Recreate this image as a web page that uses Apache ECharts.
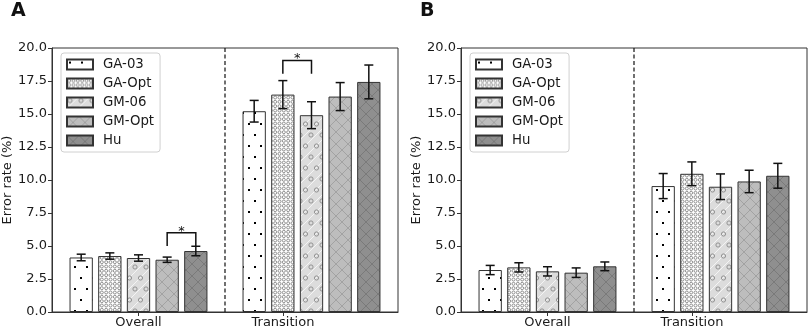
<!DOCTYPE html>
<html><head><meta charset="utf-8">
<script src="https://cdn.jsdelivr.net/npm/echarts@6/dist/echarts.min.js"></script>
<style>html,body{margin:0;padding:0;background:#fff}#c{width:809px;height:331px}</style>
</head><body><div id="c"></div>
<script>
// ---------------- DATA ----------------
const categories = ['Overall', 'Transition'];
const seriesNames = ['GA-03', 'GA-Opt', 'GM-06', 'GM-Opt', 'Hu'];
const panelTitles = ['A', 'B'];
const tickPositions = [0, 0.835];      // x tick positions (group units)
const tickLabels = ['Overall', 'Transition'];
const dividerPosition = [0.5];
const yMin = 0, yMax = 20, yStep = 2.5;

// Panel A means / errors, one entry per series (GA-03, GA-Opt, GM-06, GM-Opt, Hu)
const A_overall_mean    = [4.13, 4.24, 4.09, 3.96, 4.62];
const A_overall_err     = [0.25, 0.24, 0.24, 0.20, 0.36];
const A_transition_mean = [15.21, 16.47, 14.91, 16.32, 17.43];
const A_transition_err  = [0.82, 1.06, 1.02, 1.06, 1.28];
// Panel B
const B_overall_mean    = [3.18, 3.38, 3.08, 2.98, 3.46];
const B_overall_err     = [0.35, 0.35, 0.35, 0.36, 0.33];
const B_transition_mean = [9.54, 10.47, 9.49, 9.89, 10.32];
const B_transition_err  = [0.95, 0.90, 0.97, 0.85, 0.94];
// Significance brackets: [category, series i, series j, bracket y, leg bottom y]
const A_signif = [[0, 3, 4, 6.0, 5.0], [1, 1, 2, 19.05, 18.05]];
const B_signif = [];

// ---------------- STYLE ----------------
const FONT = 'DejaVu Sans';
const EDGE = '#333';
const TXT = '#1a1a1a';
const FS = 13;
const BAR_W = 23.3, GAP = 0.23;
const PITCH = BAR_W * (1 + GAP);

function pattern(w, h, bg, draw) {
  const c = document.createElement('canvas');
  c.width = w; c.height = h;
  const g = c.getContext('2d');
  g.fillStyle = bg; g.fillRect(0, 0, w, h);
  draw(g);
  return { image: c, repeat: 'repeat' };
}
const patterns = [
  // GA-03: sparse staggered dots
  pattern(12, 22, '#ffffff', g => {
    g.fillStyle = '#000';
    g.fillRect(2, 2, 2, 2); g.fillRect(8, 13, 2, 2);
  }),
  // GA-Opt: dense small circles
  pattern(13, 13, '#ffffff', g => {
    g.strokeStyle = '#777'; g.lineWidth = 0.8;
    for (let i = 0; i < 3; i++) for (let j = 0; j < 3; j++) {
      g.beginPath(); g.arc(2.17 + i * 4.33, 2.17 + j * 4.33, 1.5, 0, Math.PI * 2); g.stroke();
    }
  }),
  // GM-06: light grey, larger circles + faint diagonals
  pattern(22, 22, '#dcdcdc', g => {
    g.strokeStyle = '#f4f4f4'; g.lineWidth = 1;
    [[0, 11, 11, 0], [0, 22, 22, 0], [11, 22, 22, 11]].forEach(l => {
      g.beginPath(); g.moveTo(l[0], l[1]); g.lineTo(l[2], l[3]); g.stroke();
    });
    g.strokeStyle = '#8a8a8a'; g.lineWidth = 0.9;
    [[3, 3], [14, 3], [8.5, 14], [19.5, 14]].forEach(p => {
      g.beginPath(); g.arc(p[0], p[1], 2.1, 0, Math.PI * 2); g.stroke();
    });
  }),
  // GM-Opt: mid grey crosshatch
  pattern(12, 12, '#bdbdbd', g => {
    g.strokeStyle = '#a2a2a2'; g.lineWidth = 1;
    g.beginPath(); g.moveTo(0, 0); g.lineTo(12, 12); g.moveTo(0, 12); g.lineTo(12, 0); g.stroke();
  }),
  // Hu: dark grey crosshatch
  pattern(12, 12, '#8f8f8f', g => {
    g.strokeStyle = '#7a7a7a'; g.lineWidth = 1;
    g.beginPath(); g.moveTo(0, 0); g.lineTo(12, 12); g.moveTo(0, 12); g.lineTo(12, 0); g.stroke();
  })
];

const panels = [
  { om: A_overall_mean, oe: A_overall_err, tm: A_transition_mean, te: A_transition_err, sig: A_signif, left: 52 },
  { om: B_overall_mean, oe: B_overall_err, tm: B_transition_mean, te: B_transition_err, sig: B_signif, left: 461 }
];

const grids = [], xAxes = [], yAxes = [], series = [], legends = [], titles = [];
panels.forEach((p, k) => {
  grids.push({ left: p.left, top: 48, width: 346, height: 264, show: true, borderColor: EDGE, borderWidth: 1 });
  titles.push({ text: panelTitles[k], left: p.left - 41, top: 2, padding: 0,
    textStyle: { fontFamily: FONT, fontSize: 19, fontWeight: 'bold', color: '#111' } });
  // category axis for bars (hidden)
  xAxes.push({ type: 'category', gridIndex: k, position: 'bottom', data: categories, show: false });
  // value axis for ticks / labels / divider
  xAxes.push({ type: 'value', gridIndex: k, position: 'bottom', offset: 0, min: -0.5, max: 1.5,
    axisLine: { show: true, onZero: false, lineStyle: { color: EDGE, width: 1 } },
    axisTick: { show: true, customValues: tickPositions, length: 4, lineStyle: { color: EDGE } },
    axisLabel: { show: true, customValues: tickPositions, margin: 4, fontFamily: FONT, fontSize: FS, color: TXT,
      formatter: v => { const i = tickPositions.findIndex(t => Math.abs(t - v) < 1e-6); return i >= 0 ? tickLabels[i] : ''; } },
    splitLine: { show: false } });
  yAxes.push({ type: 'value', gridIndex: k, min: yMin, max: yMax, interval: yStep,
    name: 'Error rate (%)', nameLocation: 'middle', nameGap: 37,
    nameTextStyle: { fontFamily: FONT, fontSize: FS, color: TXT },
    axisLine: { show: true, onZero: false, lineStyle: { color: EDGE, width: 1 } },
    axisTick: { show: true, length: 4, lineStyle: { color: EDGE } },
    axisLabel: { fontFamily: FONT, fontSize: FS, color: TXT, margin: 5, formatter: v => v.toFixed(1) },
    splitLine: { show: false } });

  const errData = [];
  seriesNames.forEach((name, i) => {
    series.push({ type: 'bar', name, xAxisIndex: 2 * k, yAxisIndex: k,
      data: [p.om[i], p.tm[i]], barWidth: BAR_W, barGap: (GAP * 100) + '%',
      itemStyle: { color: patterns[i], borderColor: EDGE, borderWidth: 1 } });
    errData.push([0, i, p.om[i], p.oe[i]]);
    errData.push([1, i, p.tm[i], p.te[i]]);
  });
  // error bars
  series.push({ type: 'custom', xAxisIndex: 2 * k, yAxisIndex: k, data: errData, z: 5,
    encode: { x: 0, y: 2 },
    renderItem: (params, api) => {
      const c = api.value(0), s = api.value(1), m = api.value(2), e = api.value(3);
      const t = api.coord([c, m + e]), b = api.coord([c, m - e]);
      const x = t[0] + (s - 2) * PITCH, cw = 4.5;
      const st = { stroke: '#111', lineWidth: 1.5 };
      return { type: 'group', children: [
        { type: 'line', shape: { x1: x, y1: t[1], x2: x, y2: b[1] }, style: st },
        { type: 'line', shape: { x1: x - cw, y1: t[1], x2: x + cw, y2: t[1] }, style: st },
        { type: 'line', shape: { x1: x - cw, y1: b[1], x2: x + cw, y2: b[1] }, style: st }
      ] };
    } });
  // significance brackets
  if (p.sig.length) series.push({ type: 'custom', xAxisIndex: 2 * k, yAxisIndex: k, data: p.sig, z: 6,
    encode: { x: 0, y: 3 },
    renderItem: (params, api) => {
      const c = api.value(0), s1 = api.value(1), s2 = api.value(2), yt = api.value(3), yl = api.value(4);
      const top = api.coord([c, yt]), leg = api.coord([c, yl]);
      const x1 = top[0] + (s1 - 2) * PITCH, x2 = top[0] + (s2 - 2) * PITCH;
      return { type: 'group', children: [
        { type: 'polyline', shape: { points: [[x1, leg[1]], [x1, top[1]], [x2, top[1]], [x2, leg[1]]] },
          style: { stroke: '#111', lineWidth: 1.5, fill: null } },
        { type: 'text', x: (x1 + x2) / 2, y: top[1] + 5,
          style: { text: '*', fontFamily: FONT, fontSize: 13, fill: '#111', align: 'center', verticalAlign: 'bottom' } }
      ] };
    } });
  // dashed divider
  series.push({ type: 'custom', xAxisIndex: 2 * k + 1, yAxisIndex: k, data: dividerPosition.map(v => [v]), z: 4,
    encode: { x: 0 },
    renderItem: (params, api) => {
      const a = api.coord([api.value(0), yMin]), b = api.coord([api.value(0), yMax]);
      return { type: 'line', shape: { x1: a[0], y1: a[1], x2: b[0], y2: b[1] },
        style: { stroke: '#111', lineWidth: 1.2, lineDash: [4, 2.5] } };
    } });

  legends.push({ data: seriesNames, orient: 'vertical', left: p.left + 9, top: 53,
    itemWidth: 26, itemHeight: 10, itemGap: 4, icon: 'rect', selectedMode: false,
    padding: [4, 6, 4, 5], borderColor: '#d0d0d0', borderWidth: 1, borderRadius: 3,
    backgroundColor: 'rgba(255,255,255,0.85)',
    textStyle: { fontFamily: FONT, fontSize: 13.3, color: TXT, lineHeight: 15, padding: [0, 0, 0, 5] } });
});

const chart = echarts.init(document.getElementById('c'), null, { renderer: 'canvas' });
chart.setOption({ animation: false, backgroundColor: '#fff', title: titles, grid: grids,
  xAxis: xAxes, yAxis: yAxes, legend: legends, series });
</script></body></html>
